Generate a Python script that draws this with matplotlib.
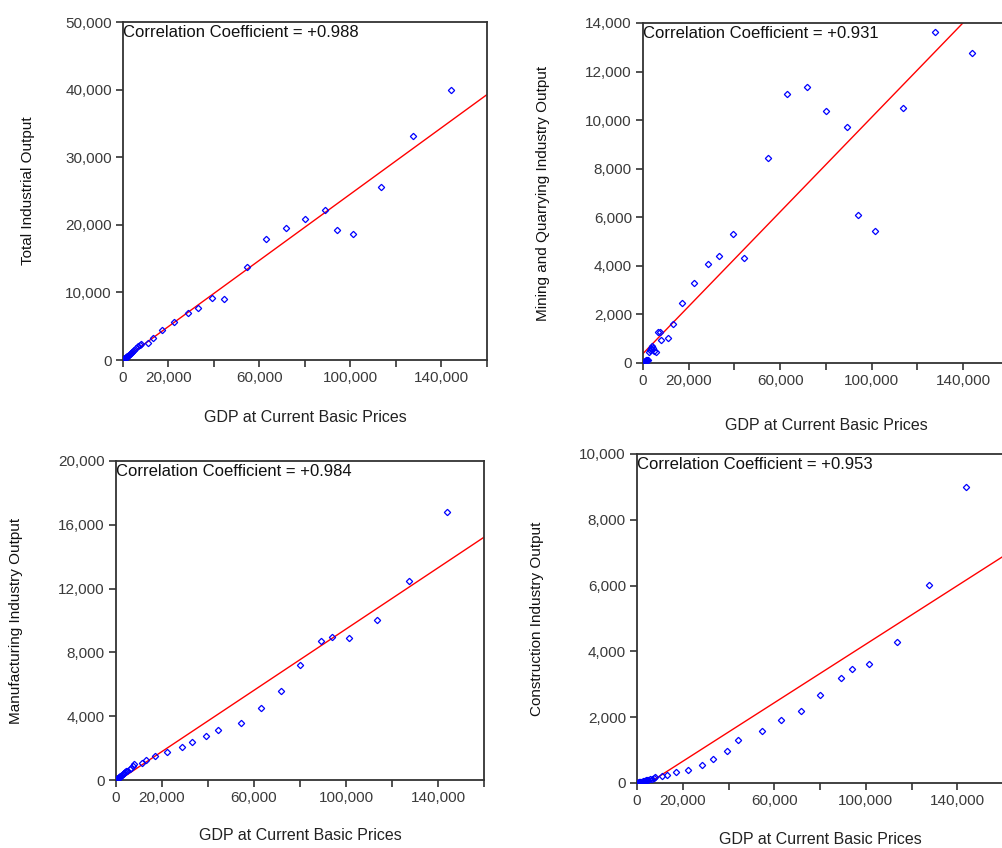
import numpy as np
import matplotlib
matplotlib.use("Agg")
import matplotlib.pyplot as plt
from matplotlib.ticker import FuncFormatter, MultipleLocator

# ---- data ----
gdp = [100, 150, 200, 250, 300, 400, 500, 600, 800, 1000, 1200, 1500, 1800,
       2200, 2600, 2900, 3300, 3600, 4100, 4500, 5000, 5900, 6700, 7300, 8000,
       11100, 13000, 17100, 22200, 28600, 33100, 39200, 44300, 54500, 62900,
       71700, 79900, 89000, 93900, 101300, 113500, 127600, 144000]
total_output = [30, 45, 60, 75, 90, 120, 150, 180, 240, 300, 360, 450, 540,
                650, 780, 870, 1000, 1100, 1250, 1400, 1550, 1800, 2050, 2250, 2350,
                2500, 3300, 4400, 5600, 6900, 7700, 9200, 9000, 13800, 17900,
                19600, 20900, 22200, 19300, 18700, 25600, 33200, 39900]
mining_output = [10, 12, 15, 18, 20, 25, 30, 40, 60, 80, 100, 110, 120,
                 140, 450, 550, 600, 580, 680, 620, 500, 450, 1260, 1270, 960,
                 1030, 1600, 2470, 3290, 4070, 4400, 5300, 4320, 8450, 11080,
                 11370, 10370, 9730, 6080, 5450, 10480, 13640, 12780]
manufacturing_output = [12, 18, 24, 30, 36, 48, 60, 72, 100, 125, 150, 190, 230,
                        280, 330, 360, 410, 440, 500, 540, 590, 660, 750, 850, 1000,
                        1090, 1250, 1500, 1770, 2070, 2400, 2760, 3150, 3570, 4530,
                        5570, 7240, 8710, 8960, 8910, 10040, 12460, 16800]
construction_output = [2, 3, 4, 5, 6, 8, 10, 12, 16, 20, 24, 30, 36,
                       44, 52, 58, 66, 72, 80, 90, 100, 115, 130, 150, 170,
                       220, 240, 330, 410, 560, 730, 980, 1310, 1570, 1900,
                       2180, 2670, 3180, 3480, 3620, 4280, 6030, 8990]

ylabels = ["Total Industrial Output", "Mining and Quarrying Industry Output",
           "Manufacturing Industry Output", "Construction Industry Output"]
corr_labels = ["Correlation Coefficient = +0.988", "Correlation Coefficient = +0.931",
               "Correlation Coefficient = +0.984", "Correlation Coefficient = +0.953"]
xlabel = "GDP at Current Basic Prices"
x_labeled_ticks = [0, 20000, 60000, 100000, 140000]

plt.rcParams['font.family'] = ['Liberation Sans', 'DejaVu Sans']

W, H = 1003, 848
fig = plt.figure(figsize=(W / 100, H / 100), dpi=100)

# axes box in pixels: left, right, top, bottom; label centres in pixels
layout = [
    dict(box=(123, 487, 22, 360), ylab_x=28, xlab_y=418, ymax=50000, ystep=10000),
    dict(box=(643, 1009, 23, 363), ylab_x=543, xlab_y=425, ymax=14000, ystep=2000),
    dict(box=(116, 484, 461, 780), ylab_x=16, xlab_y=835, ymax=20000, ystep=4000),
    dict(box=(637, 1003, 454, 783), ylab_x=537, xlab_y=840, ymax=10000, ystep=2000),
]
series = [total_output, mining_output, manufacturing_output, construction_output]

spine_col = '#333333'
tick_col = '#3a3a3a'

for lay, yvals, ylab, ctext in zip(layout, series, ylabels, corr_labels):
    l, r, t, b = lay['box']
    ax = fig.add_axes([l / W, 1 - b / H, (r - l) / W, (b - t) / H])
    x = np.array(gdp, dtype=float)
    y = np.array(yvals, dtype=float)
    slope, intercept = np.polyfit(x, y, 1)
    xl = np.array([0, 160000.0])
    ax.plot(xl, intercept + slope * xl, color='red', lw=1.0, zorder=2)
    ax.plot(x, y, linestyle='none', marker='D', markersize=3.2,
            markerfacecolor='none', markeredgecolor='blue', markeredgewidth=0.9, zorder=3)
    ax.set_xlim(0, 160000)
    ax.set_ylim(0, lay['ymax'])
    ax.xaxis.set_major_locator(MultipleLocator(20000))
    ax.yaxis.set_major_locator(MultipleLocator(lay['ystep']))
    ax.xaxis.set_major_formatter(FuncFormatter(
        lambda v, p: f"{int(round(v)):,}" if int(round(v)) in x_labeled_ticks else ""))
    ax.yaxis.set_major_formatter(FuncFormatter(lambda v, p: f"{int(round(v)):,}"))
    ax.tick_params(direction='out', length=5, width=1.2, color=spine_col,
                   labelsize=11, labelcolor=tick_col, pad=3)
    for s in ax.spines.values():
        s.set_color(spine_col)
        s.set_linewidth(1.3)
    ax.set_xlabel(xlabel, fontsize=11.5, color='#222222', va='center')
    ax.xaxis.set_label_coords(0.5, -(lay['xlab_y'] - b) / (b - t))
    ax.set_ylabel(ylab, fontsize=11, color='#111111', va='center')
    ax.yaxis.set_label_coords((lay['ylab_x'] - l) / (r - l), 0.5)
    ax.annotate(ctext, xy=(0, 1), xycoords='axes fraction', xytext=(0, -2.5),
                textcoords='offset points', ha='left', va='top',
                fontsize=12, color='#111111')

fig.savefig("out.png", dpi=100)
